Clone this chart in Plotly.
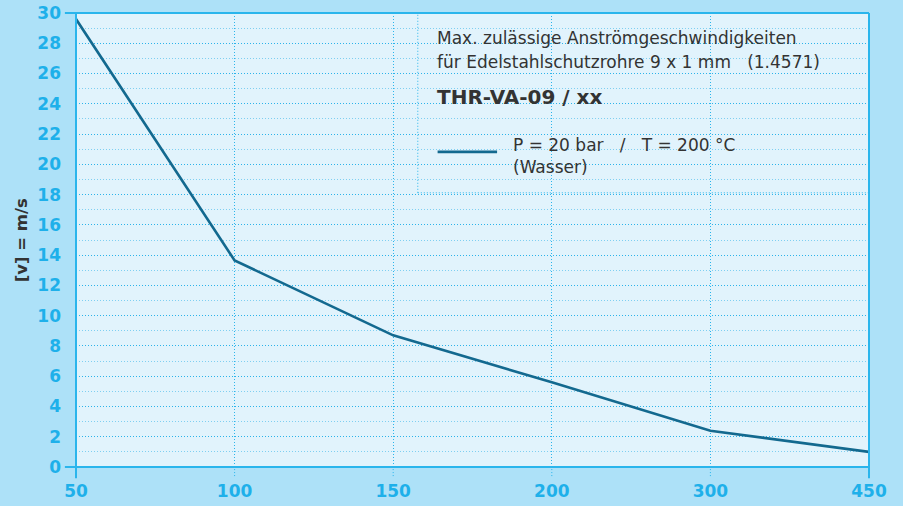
import plotly.graph_objects as go

# Durchmesser-Kategorien (gleichabständig auf der x-Achse)
x_labels = ["50", "100", "150", "200", "300", "450"]
# max. Anströmgeschwindigkeit in m/s
v_values = [29.6, 13.65, 8.7, 5.6, 2.4, 1.0]
y_ticks = list(range(0, 31, 2))

BG = "#ade1f8"
PLOT_BG = "#e1f3fc"
BLUE = "#1eb0ea"
LINE = "#2ab5ec"
DARK = "#333333"
DOT = "1px,2px"

x_pos = list(range(len(x_labels)))

fig = go.Figure()
fig.add_trace(go.Scatter(
    x=x_pos, y=v_values, mode="lines",
    line=dict(color="#13698f", width=2.6),
    showlegend=False, hoverinfo="skip",
))

shapes = []
# Kasten für die Legende (verdeckt die Gitterlinien)
shapes.append(dict(type="rect", xref="paper", yref="paper", x0=0.431, x1=1.0, y0=0.604, y1=1.0,
                   fillcolor=PLOT_BG, line=dict(width=0), layer="between"))
shapes.append(dict(type="line", xref="paper", yref="paper", x0=0.431, x1=0.431, y0=0.604, y1=1.0,
                   line=dict(color=LINE, width=1, dash=DOT), layer="between"))
shapes.append(dict(type="line", xref="paper", yref="paper", x0=0.431, x1=1.0, y0=0.604, y1=0.604,
                   line=dict(color=LINE, width=1, dash=DOT), layer="between"))
# vertikale Gitterlinien mit Verlängerung unter die Achse
for i in x_pos[1:-1]:
    shapes.append(dict(type="line", xref="x", yref="paper", x0=i, x1=i, y0=-0.02, y1=0.0,
                       line=dict(color=LINE, width=1, dash=DOT)))
# Rahmen
for xp in [0, 1]:
    shapes.append(dict(type="line", xref="paper", yref="paper", x0=xp, x1=xp, y0=-0.025, y1=1.0,
                       line=dict(color=LINE, width=2), layer="above"))
for yp in [0, 1]:
    shapes.append(dict(type="line", xref="paper", yref="paper", x0=-0.014, x1=1.0, y0=yp, y1=yp,
                       line=dict(color=LINE, width=2), layer="above"))
# Legendenlinie
shapes.append(dict(type="line", xref="paper", yref="paper", x0=0.456, x1=0.531, y0=0.694, y1=0.694,
                   line=dict(color="#13698f", width=2.6), layer="above"))

font = "DejaVu Sans, sans-serif"
annotations = [
    dict(text="Max. zulässige Anströmgeschwindigkeiten", x=0.453, y=0.946, xanchor="left", yanchor="middle",
         font=dict(size=17, color=DARK)),
    dict(text="für Edelstahlschutzrohre 9 x 1 mm &nbsp; (1.4571)", x=0.453, y=0.892, xanchor="left", yanchor="middle",
         font=dict(size=17, color=DARK)),
    dict(text="<b>THR-VA-09 / xx</b>", x=0.453, y=0.815, xanchor="left", yanchor="middle",
         font=dict(size=20, color=DARK)),
    dict(text="P = 20 bar &nbsp; / &nbsp; T = 200 °C", x=0.548, y=0.709, xanchor="left", yanchor="middle",
         font=dict(size=17, color=DARK)),
    dict(text="(Wasser)", x=0.548, y=0.661, xanchor="left", yanchor="middle",
         font=dict(size=17, color=DARK)),
    dict(text="<b>[v] = m/s</b>", x=-0.069, y=0.5, xanchor="center", yanchor="middle", textangle=-90,
         font=dict(size=16.5, color=DARK)),
]
for a in annotations:
    a.update(xref="paper", yref="paper", showarrow=False)

fig.update_layout(
    width=903, height=506,
    margin=dict(l=76, r=34, t=13, b=39),
    paper_bgcolor=BG, plot_bgcolor=PLOT_BG,
    font=dict(family=font, color=BLUE),
    shapes=shapes, annotations=annotations,
    xaxis=dict(
        range=[0, len(x_labels) - 1], tickmode="array", tickvals=x_pos, ticktext=x_labels,
        showgrid=True, gridcolor=LINE, griddash=DOT, gridwidth=1, automargin=False,
        zeroline=False, showline=False, ticks="", ticklabelstandoff=12,
        tickfont=dict(size=17, color=BLUE, family=font, weight="bold"),
    ),
    yaxis=dict(
        range=[0, 30], tickmode="array", tickvals=y_ticks, automargin=False,
        showgrid=True, gridcolor="#2cb3ea", griddash=DOT, gridwidth=1,
        minor=dict(dtick=1, showgrid=True, gridcolor="#7fcff1", griddash=DOT, gridwidth=1),
        zeroline=False, showline=False, ticks="", ticklabelstandoff=14,
        tickfont=dict(size=17, color=BLUE, family=font, weight="bold"),
    ),
)

fig.write_html("out.html", config={"displayModeBar": False},
               post_script="document.body.style.margin='0px';")
